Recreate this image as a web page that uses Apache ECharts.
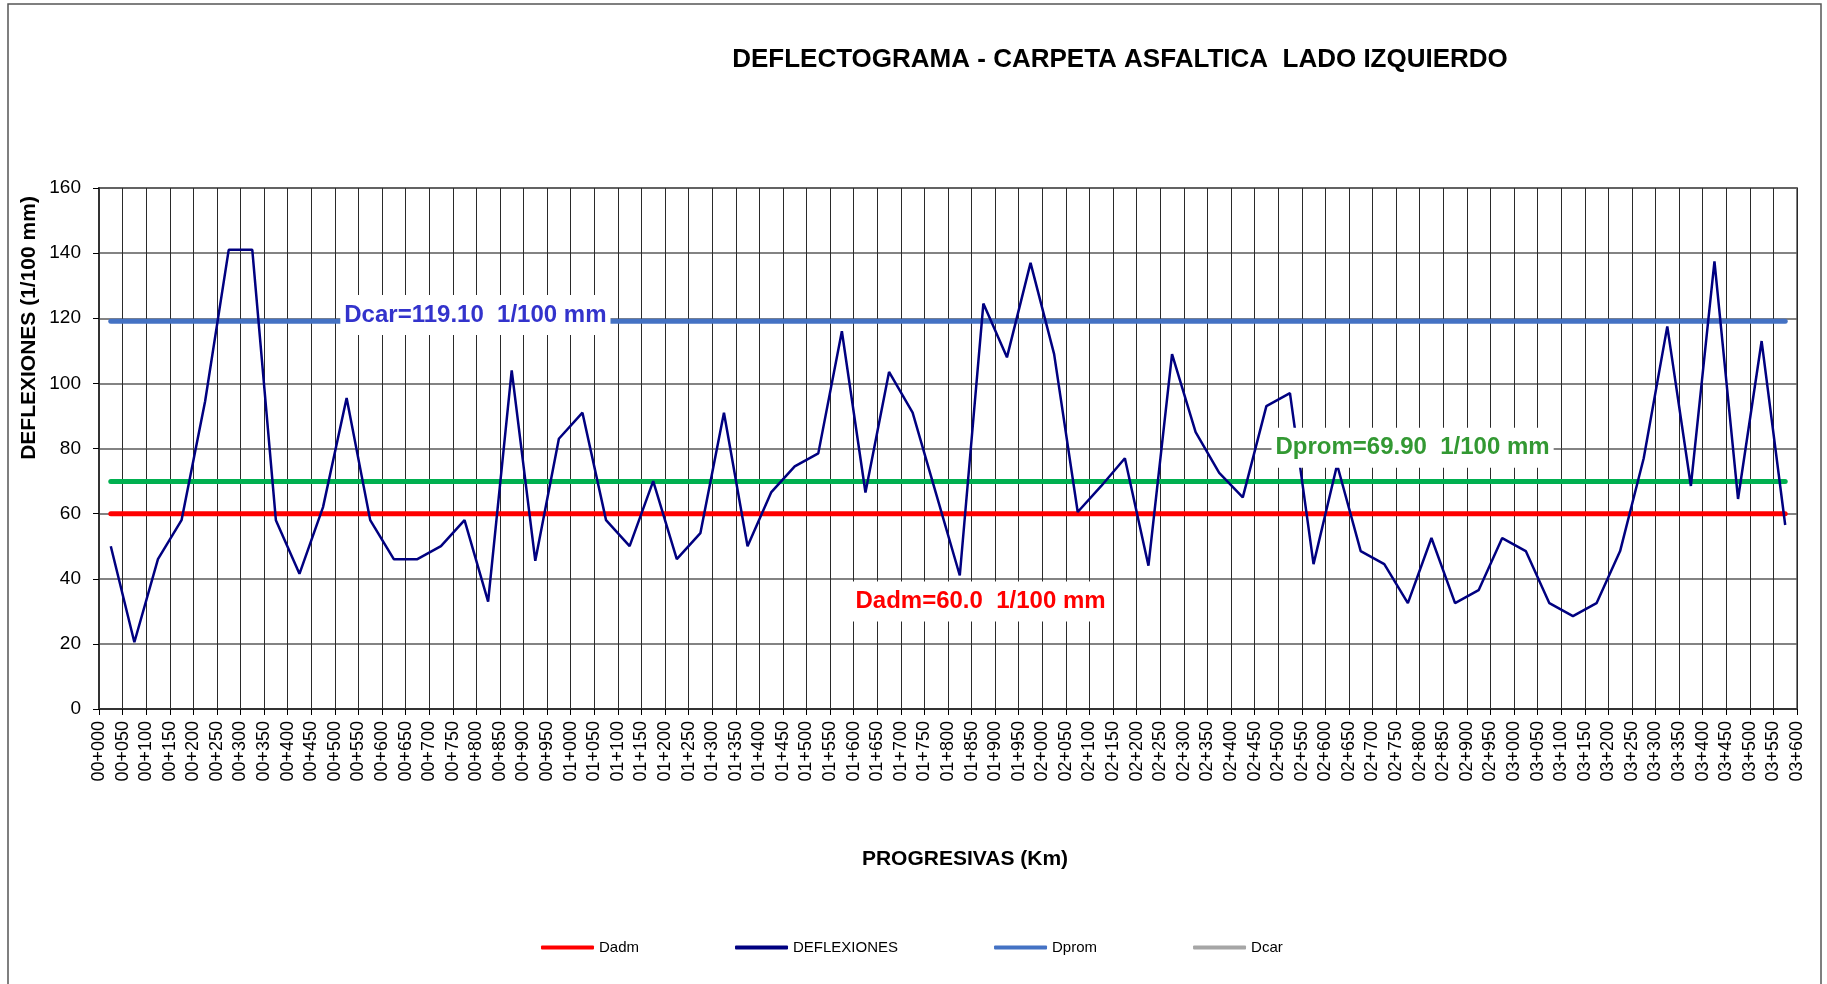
<!DOCTYPE html>
<html>
<head>
<meta charset="utf-8">
<title>Deflectograma</title>
<script src="https://cdn.jsdelivr.net/npm/echarts@6/dist/echarts.min.js"></script>
<style>
  html, body { margin: 0; padding: 0; background: #fff; }
  #chart { width: 1827px; height: 984px; }
</style>
</head>
<body>
<div id="chart"></div>
<script>
// etiquetas del eje X (progresivas cada 50 m)
const etiquetas = [
  '00+000', '00+050', '00+100', '00+150', '00+200', '00+250', '00+300', '00+350', '00+400', '00+450',
  '00+500', '00+550', '00+600', '00+650', '00+700', '00+750', '00+800', '00+850', '00+900', '00+950',
  '01+000', '01+050', '01+100', '01+150', '01+200', '01+250', '01+300', '01+350', '01+400', '01+450',
  '01+500', '01+550', '01+600', '01+650', '01+700', '01+750', '01+800', '01+850', '01+900', '01+950',
  '02+000', '02+050', '02+100', '02+150', '02+200', '02+250', '02+300', '02+350', '02+400', '02+450',
  '02+500', '02+550', '02+600', '02+650', '02+700', '02+750', '02+800', '02+850', '02+900', '02+950',
  '03+000', '03+050', '03+100', '03+150', '03+200', '03+250', '03+300', '03+350', '03+400', '03+450',
  '03+500', '03+550', '03+600'
]

// posicion (m) de cada lectura
const estaciones = [
  25, 75, 125, 175, 225, 275, 325, 375, 425, 475, 525, 575, 625, 675, 725, 775, 825, 875,
  925, 975, 1025, 1075, 1125, 1175, 1225, 1275, 1325, 1375, 1425, 1475, 1525, 1575, 1625, 1675,
  1725, 1775, 1825, 1875, 1925, 1975, 2025, 2075, 2125, 2175, 2225, 2275, 2325, 2375, 2425, 2475,
  2525, 2575, 2625, 2675, 2725, 2775, 2825, 2875, 2925, 2975, 3025, 3075, 3125, 3175, 3225, 3275,
  3325, 3375, 3425, 3475, 3525, 3575
]

// deflexiones (1/100 mm)
const deflexiones = [
  50, 20.5, 46, 58, 94.5, 141, 141, 58, 41.5, 62,
  95.5, 58, 46, 46, 50, 58, 33, 104, 45.5, 83,
  91, 58, 50, 70, 46, 54, 91, 50, 66.5, 74.5,
  78.5, 116, 66.5, 103.5, 91, 66, 41, 124.5, 108, 137,
  109, 60.5, 68.5, 77, 44, 109, 85, 72.5, 65, 93,
  97, 44.5, 75, 48.5, 44.5, 32.5, 52.5, 32.5, 36.5, 52.5,
  48.5, 32.5, 28.5, 32.5, 48.5, 77, 117.5, 68.5, 137.5, 64.5,
  113, 56.5
]

// valores de referencia
const Dadm = 60.0
const Dprom = 69.90
const Dcar = 119.10

// ticks del eje Y
const ticksY = [0, 20, 40, 60, 80, 100, 120, 140, 160]

const fuente = 'Liberation Sans, Arial, sans-serif'

// linea horizontal de referencia entre la primera y la ultima lectura
function linea(valor) {
  return [[estaciones[0], valor], [estaciones[estaciones.length - 1], valor]]
}

let mychart = echarts.init(document.getElementById('chart'))

let etiquetaRef = {
  show: true,
  position: 'inside',
  fontFamily: fuente,
  fontSize: 24,
  fontWeight: 'bold',
  backgroundColor: '#fff',
  padding: [8, 4]
}

let option = {
  animation: false,
  title: {
    text: 'DEFLECTOGRAMA - CARPETA ASFALTICA  LADO IZQUIERDO',
    left: 1115,
    top: 42,
    textAlign: 'center',
    textStyle: { fontFamily: fuente, fontSize: 26, fontWeight: 'bold', color: '#000' }
  },
  legend: {
    left: 536,
    top: 935,
    icon: 'roundRect',
    itemWidth: 53,
    itemHeight: 4,
    itemGap: 96,
    textStyle: { fontFamily: fuente, fontSize: 15, color: '#000' },
    data: [
      { name: 'Dadm' },
      { name: 'DEFLEXIONES' },
      // en la leyenda original Dprom aparece azul y Dcar gris
      { name: 'Dprom', itemStyle: { color: '#4472C4' } },
      { name: 'Dcar', itemStyle: { color: '#A6A6A6' } }
    ]
  },
  grid: {
    left: 99,
    right: 30,
    top: 188,
    bottom: 275,
    show: true,
    borderColor: '#808080',
    borderWidth: 2
  },
  xAxis: {
    type: 'value',
    min: 0,
    max: 3600,
    interval: 50,
    axisLine: { lineStyle: { color: '#333', width: 2 } },
    axisTick: { show: true, length: 6, lineStyle: { color: '#000' } },
    axisLabel: {
      rotate: 90,
      margin: 12,
      color: '#000',
      fontFamily: fuente,
      fontSize: 18,
      showMinLabel: true,
      showMaxLabel: true,
      formatter: function (v) {
        return etiquetas[Math.round(v / 50)]
      }
    },
    splitLine: { show: true, lineStyle: { color: '#2a2a2a', width: 1 } }
  },
  yAxis: {
    type: 'value',
    min: ticksY[0],
    max: ticksY[ticksY.length - 1],
    interval: 20,
    axisLine: { show: true, lineStyle: { color: '#333', width: 2 } },
    axisTick: { show: true, length: 6, lineStyle: { color: '#000' } },
    axisLabel: { color: '#000', fontFamily: fuente, fontSize: 19, margin: 18 },
    splitLine: { show: true, lineStyle: { color: '#5a5a5a', width: 1.5 } }
  },
  graphic: [
    {
      type: 'rect',
      silent: true,
      shape: { x: 8, y: 4, width: 1813, height: 1010 },
      style: { fill: 'none', stroke: '#555', lineWidth: 1.5 }
    },
    {
      type: 'text',
      silent: true,
      x: 29,
      y: 328,
      rotation: Math.PI / 2,
      style: {
        text: 'DEFLEXIONES (1/100 mm)',
        align: 'center',
        verticalAlign: 'middle',
        font: 'bold 21px ' + fuente,
        fill: '#000'
      }
    },
    {
      type: 'text',
      silent: true,
      x: 965,
      y: 859,
      style: {
        text: 'PROGRESIVAS (Km)',
        align: 'center',
        verticalAlign: 'middle',
        font: 'bold 21px ' + fuente,
        fill: '#000'
      }
    }
  ],
  series: [
    {
      name: 'Dadm',
      type: 'line',
      data: linea(Dadm),
      symbol: 'none',
      z: 2,
      color: '#FF0000',
      lineStyle: { color: '#FF0000', width: 5, cap: 'round' }
    },
    {
      name: 'DEFLEXIONES',
      type: 'line',
      data: estaciones.map((x, i) => [x, deflexiones[i]]),
      symbol: 'none',
      z: 4,
      color: '#000080',
      lineStyle: { color: '#000080', width: 2.5 }
    },
    {
      name: 'Dprom',
      type: 'line',
      data: linea(Dprom),
      symbol: 'none',
      z: 2,
      color: '#00B050',
      lineStyle: { color: '#00B050', width: 5, cap: 'round' }
    },
    {
      name: 'Dcar',
      type: 'line',
      data: linea(Dcar),
      symbol: 'none',
      z: 2,
      color: '#4472C4',
      lineStyle: { color: '#4472C4', width: 5, cap: 'round' }
    },
    {
      // rotulos de los valores de referencia
      name: 'rotulos',
      type: 'line',
      data: [],
      z: 6,
      markPoint: {
        symbol: 'rect',
        symbolSize: 0,
        silent: true,
        label: etiquetaRef,
        data: [
          {
            coord: [798, 121],
            label: { formatter: 'Dcar=' + Dcar.toFixed(2) + '  1/100 mm', color: '#3333CC' }
          },
          {
            coord: [2785, 80.2],
            label: { formatter: 'Dprom=' + Dprom.toFixed(2) + '  1/100 mm', color: '#339933' }
          },
          {
            coord: [1869, 33],
            label: { formatter: 'Dadm=' + Dadm.toFixed(1) + '  1/100 mm', color: '#FF0000' }
          }
        ]
      }
    }
  ]
}

mychart.setOption(option)
</script>
</body>
</html>
